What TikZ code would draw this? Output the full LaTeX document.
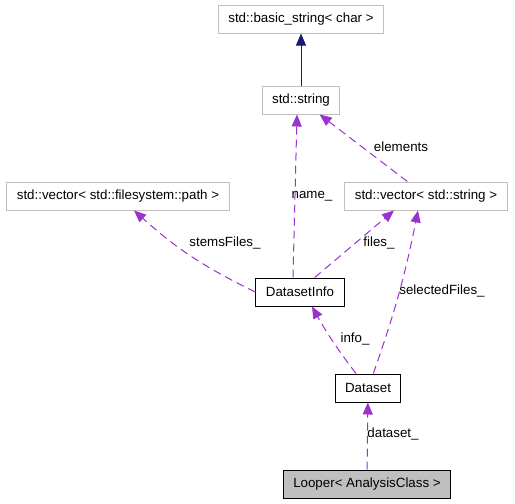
\documentclass[tikz,border=0pt]{standalone}
\usepackage{fontspec}
\setmainfont{Liberation Sans}
\usetikzlibrary{arrows.meta}
\usetikzlibrary{positioning}
\definecolor{usecol}{HTML}{9A32CD}
\definecolor{inhcol}{HTML}{191970}
\definecolor{boxgray}{HTML}{BFBFBF}

\begin{document}
\begin{tikzpicture}[x=0.75pt,y=-0.75pt,
  every node/.style={font=\fontsize{10}{12}\selectfont},
  ext/.style={draw=boxgray,line width=0.75pt,minimum height=21pt,inner xsep=7.5pt},
  cls/.style={ext,draw=black},
  lbl/.style={inner sep=0pt},
  uses/.style={draw=usecol,line width=0.75pt,dash pattern=on 6pt off 3.75pt,
    -{Triangle[length=9pt,width=7.5pt,fill=usecol]}},
  inh/.style={draw=inhcol,line width=0.75pt,
    -{Triangle[length=9pt,width=7.5pt,fill=inhcol]}}]
  \useasboundingbox (0,0) rectangle (515,504);

  \node[ext] (bstr) at (301,19) {std::basic\_string< char >};
  \node[ext] (str) at (301,100) {std::string};
  \node[ext] (vpath) at (118,196) {std::vector< std::filesystem::path >};
  \node[ext] (vstr) at (426,196) {std::vector< std::string >};
  \node[cls] (info) at (300,292) {DatasetInfo};
  \node[cls] (ds) at (368,388) {Dataset};
  \node[cls,fill=boxgray] (loop) at (367,484) {Looper< AnalysisClass >};

  \node[lbl] (lname) at (312,196) {name\_};
  \node[lbl] (lelem) at (401,147) {elements};
  \node[lbl] (lstem) at (225,243) {stemsFiles\_};
  \node[lbl] (lfiles) at (379,243) {files\_};
  \node[lbl] (lsel) at (442,291) {selectedFiles\_};
  \node[lbl] (linfo) at (355,339) {info\_};
  \node[lbl] (lds) at (393,434) {dataset\_};

  \draw[inh](str)--(bstr);
  \draw[uses]([xshift=-5.25pt]info.north)--([xshift=-3pt]str.south);
  \draw[uses]([xshift=-14pt]vstr.north)--([xshift=14pt]str.south);
  \draw[uses](info.west) to[bend left=8] ([xshift=12pt]vpath.south);
  \draw[uses]([xshift=11pt]info.north)--([xshift=-24pt]vstr.south);
  \draw[uses]([xshift=4pt]ds.north) to[bend right=4] ([xshift=-6pt]vstr.south);
  \draw[uses]([xshift=-9pt]ds.north) to[bend left=4] ([xshift=9pt]info.south);
  \draw[uses](loop)--(ds);
\end{tikzpicture}
\end{document}
